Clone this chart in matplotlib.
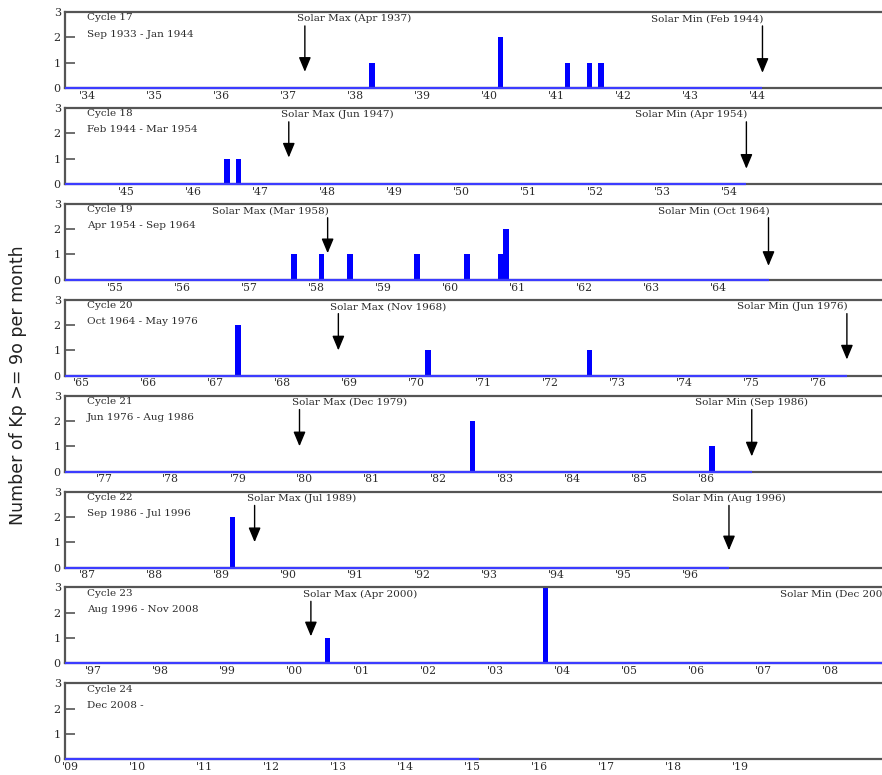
import numpy as np
import matplotlib
matplotlib.use('Agg')
import matplotlib.pyplot as plt

# one row per solar cycle
cycle_names = ['Cycle 17', 'Cycle 18', 'Cycle 19', 'Cycle 20',
               'Cycle 21', 'Cycle 22', 'Cycle 23', 'Cycle 24']
cycle_spans = ['Sep 1933 - Jan 1944', 'Feb 1944 - Mar 1954', 'Apr 1954 - Sep 1964',
               'Oct 1964 - May 1976', 'Jun 1976 - Aug 1986', 'Sep 1986 - Jul 1996',
               'Aug 1996 - Nov 2008', 'Dec 2008 -']
cycle_start = [1933.67, 1944.08, 1954.25, 1964.75, 1976.42, 1986.67, 1996.58, 2008.92]
cycle_end = [1944.08, 1954.25, 1964.75, 1976.42, 1986.67, 1996.58, 2008.92, 2015.1]
last_tick_year = [1944, 1954, 1964, 1976, 1986, 1996, 2008, 2019]

max_labels = ['Solar Max (Apr 1937)', 'Solar Max (Jun 1947)', 'Solar Max (Mar 1958)',
              'Solar Max (Nov 1968)', 'Solar Max (Dec 1979)', 'Solar Max (Jul 1989)',
              'Solar Max (Apr 2000)', None]
max_dates = [1937.25, 1947.42, 1958.17, 1968.83, 1979.92, 1989.5, 2000.25, None]
min_labels = ['Solar Min (Feb 1944)', 'Solar Min (Apr 1954)', 'Solar Min (Oct 1964)',
              'Solar Min (Jun 1976)', 'Solar Min (Sep 1986)', 'Solar Min (Aug 1996)',
              'Solar Min (Dec 2008)', None]
min_dates = [1944.08, 1954.25, 1964.75, 1976.42, 1986.67, 1996.58, 2008.92, None]

# months with Kp >= 9o (decimal year of month start) and count
event_dates = [1938.25, 1940.17, 1941.17, 1941.5, 1941.67,
               1946.5, 1946.67,
               1957.67, 1958.08, 1958.5, 1959.5, 1960.25, 1960.75, 1960.83,
               1967.33, 1970.17, 1972.58,
               1982.5, 1986.08,
               1989.17,
               2000.5, 2003.75]
event_counts = [1, 2, 1, 1, 1,
                1, 1,
                1, 1, 1, 1, 1, 1, 2,
                2, 1, 1,
                2, 1,
                2,
                1, 3]

# arrow styling per panel
max_tip = [0.64, 1.04, 1.05, 1.0, 1.0, 1.0, 1.07, None]
min_tip = [0.6, 0.6, 0.55, 0.64, 0.6, 0.68, 0.6, None]
max_align = ['left', 'left', 'right', 'left', 'left', 'left', 'left', None]
min_align = ['right', 'right', 'right', 'right', 'center', 'center', 'right', None]

W, H = 882, 775
px_year = 67.0
left_px, right_px = 65, 892
panel_h = 76
txt_col = '#2b2b2b'
spine_col = '#555555'
serif = 'DejaVu Serif'

fig = plt.figure(figsize=(W / 100, H / 100), dpi=100)

ev_x = np.array(event_dates)
ev_h = np.array(event_counts)

for i in range(len(cycle_names)):
    top = 12 + 95.9 * i
    bottom = top + panel_h
    ax = fig.add_axes([left_px / W, 1 - bottom / H, (right_px - left_px) / W, panel_h / H])
    start = cycle_start[i]
    ax.set_xlim(start, start + (right_px - left_px) / px_year)
    ax.set_ylim(0, 3)

    for s in ['left', 'top', 'bottom']:
        ax.spines[s].set_color(spine_col)
        ax.spines[s].set_linewidth(1.6)
    ax.spines['right'].set_visible(False)

    # blue baseline across the cycle
    ax.plot([start, cycle_end[i]], [0, 0], color='#3c3cff', lw=1.6,
            zorder=3, clip_on=False, solid_capstyle='butt')

    sel = (ev_x >= start) & (ev_x < cycle_end[i])
    ax.bar(ev_x[sel], ev_h[sel], width=1 / 12, color='#0000ff', zorder=2)

    ax.set_yticks([0, 1, 2, 3])
    ax.tick_params(axis='y', direction='in', length=7, width=1.2, color=spine_col,
                   pad=3, labelsize=8, labelcolor=txt_col)
    years = np.arange(int(np.ceil(start)), last_tick_year[i] + 1)
    ax.set_xticks(years)
    ax.set_xticklabels(["'%02d" % (y % 100) for y in years])
    ax.tick_params(axis='x', length=0, pad=2, labelsize=7.8, labelcolor=txt_col)
    for lab in ax.get_xticklabels() + ax.get_yticklabels():
        lab.set_family(serif)

    x0 = start + 22 / px_year
    ax.text(x0, 2.77, cycle_names[i], fontsize=7.5, family=serif, color=txt_col, va='center')
    ax.text(x0, 2.13, cycle_spans[i], fontsize=7.5, family=serif, color=txt_col, va='center')

    for lab, d, tip, al in [(max_labels[i], max_dates[i], max_tip[i], max_align[i]),
                            (min_labels[i], min_dates[i], min_tip[i], min_align[i])]:
        if lab is None:
            continue
        if al == 'left':
            tx = d - 8 / px_year
        elif al == 'right':
            tx = d + 1 / px_year
        else:
            tx = d
        ax.text(tx, 2.73, lab, fontsize=7.5, family=serif, color=txt_col,
                ha=al, va='center', clip_on=False)
        ax.annotate('', xy=(d, tip), xytext=(d, 2.45),
                    arrowprops=dict(arrowstyle='-|>,head_length=0.55,head_width=0.23',
                                    color='black', lw=1, mutation_scale=16,
                                    shrinkA=0, shrinkB=0))

fig.text(18 / W, 1 - 385 / H, 'Number of Kp >= 9o per month', rotation=90,
         ha='center', va='center', fontsize=12.5, color='#222222')

fig.savefig('out.png', dpi=100)
